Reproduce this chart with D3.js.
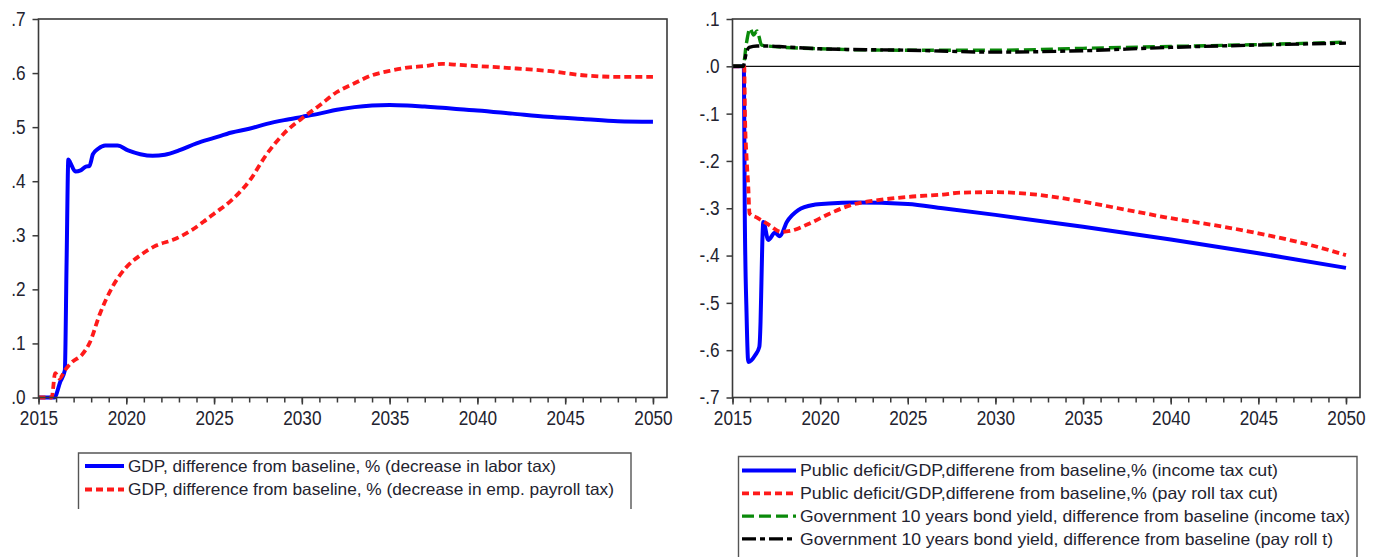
<!DOCTYPE html>
<html>
<head>
<meta charset="utf-8">
<script src="https://cdn.jsdelivr.net/npm/d3@7"></script>
<style>
  html, body { margin: 0; padding: 0; background: #fff; }
  svg { display: block; }
</style>
</head>
<body>
<svg id="chart" width="1381" height="559"></svg>
<script>
// ---------------- DATA ----------------
// Left panel: GDP, difference from baseline, %
const gdpLaborT = [2015, 2015.9, 2016.25, 2016.5, 2016.6, 2016.7, 2016.8, 2017.1, 2017.4, 2017.7, 2017.9, 2018.1, 2018.4, 2018.8, 2019.5, 2020.1, 2020.8, 2021.5, 2022.2, 2023, 2024, 2025, 2026, 2027, 2028, 2029, 2030, 2031, 2032, 2033, 2034, 2035, 2036, 2037, 2038, 2039, 2040, 2042, 2044, 2046, 2048, 2050];
const gdpLaborV = [0, 0, 0.03, 0.05, 0.25, 0.44, 0.435, 0.418, 0.42, 0.427, 0.428, 0.45, 0.46, 0.466, 0.466, 0.457, 0.45, 0.447, 0.449, 0.457, 0.47, 0.48, 0.49, 0.497, 0.506, 0.513, 0.519, 0.525, 0.532, 0.537, 0.54, 0.541, 0.54, 0.538, 0.536, 0.533, 0.531, 0.525, 0.519, 0.515, 0.511, 0.51];

const gdpPayrollT = [2015, 2015.75, 2015.95, 2016.2, 2016.5, 2016.9, 2017.5, 2017.9, 2018.5, 2019.2, 2020, 2020.8, 2021.7, 2022.7, 2023.7, 2024.4, 2025, 2026, 2027, 2028, 2029, 2030, 2031, 2032, 2033, 2034, 2035, 2036, 2037, 2038, 2039, 2040, 2042, 2044, 2046, 2048, 2050];
const gdpPayrollV = [0, 0, 0.045, 0.035, 0.05, 0.065, 0.08, 0.1, 0.155, 0.204, 0.241, 0.263, 0.281, 0.292, 0.309, 0.325, 0.34, 0.365, 0.40, 0.45, 0.489, 0.516, 0.54, 0.565, 0.581, 0.596, 0.604, 0.61, 0.613, 0.617, 0.615, 0.613, 0.609, 0.604, 0.596, 0.593, 0.593];

// Right panel: public deficit / GDP and bond yields
const defIncomeT = [2015, 2015.65, 2015.7, 2015.8, 2015.9, 2016.3, 2016.53, 2016.6, 2016.65, 2016.7, 2016.76, 2017.04, 2017.42, 2017.7, 2018.1, 2018.75, 2019.6, 2020.5, 2022, 2025, 2027, 2030, 2035, 2040, 2045, 2050];
const defIncomeV = [0, 0, -0.31, -0.52, -0.625, -0.61, -0.593, -0.54, -0.458, -0.374, -0.329, -0.367, -0.352, -0.359, -0.329, -0.304, -0.293, -0.29, -0.288, -0.291, -0.3, -0.314, -0.339, -0.366, -0.395, -0.426];

const defPayrollT = [2015, 2015.67, 2015.71, 2015.81, 2015.9, 2015.97, 2016.4, 2016.95, 2017.8, 2018.3, 2019.4, 2020.56, 2021.87, 2023.3, 2025, 2027, 2028, 2030, 2032, 2035, 2037, 2040, 2043, 2045, 2048, 2050];
const defPayrollV = [0, 0, -0.1, -0.198, -0.254, -0.311, -0.32, -0.332, -0.35, -0.348, -0.332, -0.311, -0.292, -0.283, -0.276, -0.271, -0.267, -0.266, -0.27, -0.286, -0.3, -0.321, -0.339, -0.353, -0.378, -0.399];

const yieldIncomeT = [2015, 2015.6, 2015.8, 2016.0, 2016.2, 2016.4, 2016.66, 2017, 2018, 2020, 2025, 2030, 2035, 2040, 2045, 2050];
const yieldIncomeV = [0, 0, 0.05, 0.08, 0.066, 0.075, 0.045, 0.043, 0.04, 0.037, 0.034, 0.034, 0.038, 0.042, 0.046, 0.051];

const yieldPayrollT = [2015, 2015.6, 2015.8, 2015.95, 2016.4, 2017, 2018, 2020, 2025, 2030, 2035, 2040, 2045, 2050];
const yieldPayrollV = [0, 0, 0.03, 0.04, 0.043, 0.043, 0.041, 0.037, 0.034, 0.03, 0.033, 0.04, 0.045, 0.049];

// Tick labels
const xMajorTicks = [2015, 2020, 2025, 2030, 2035, 2040, 2045, 2050];
const xMinorTicks = d3.range(2015, 2051, 1);
const leftYTicks = [0, 0.1, 0.2, 0.3, 0.4, 0.5, 0.6, 0.7];
const leftYLabels = [".0", ".1", ".2", ".3", ".4", ".5", ".6", ".7"];
const rightYTicks = [-0.7, -0.6, -0.5, -0.4, -0.3, -0.2, -0.1, 0, 0.1];
const rightYLabels = ["-.7", "-.6", "-.5", "-.4", "-.3", "-.2", "-.1", ".0", ".1"];

// Legends
const leftLegend = [
  "GDP, difference from baseline, % (decrease in labor tax)",
  "GDP, difference from baseline, % (decrease in emp. payroll tax)"
];
const rightLegend = [
  "Public deficit/GDP,differene from baseline,% (income tax cut)",
  "Public deficit/GDP,differene from baseline,% (pay roll tax cut)",
  "Government 10 years bond yield, difference from baseline (income tax)",
  "Government 10 years bond yield, difference from baseline (pay roll t)"
];

// ---------------- STYLES ----------------
const styles = {
  blue:  { color: "#0000ff", width: 4, dash: null },
  red:   { color: "#ff1a1a", width: 3.8, dash: "7,4" },
  green: { color: "#0a8a0a", width: 3.4, dash: "12,5" },
  black: { color: "#000000", width: 3.4, dash: "14,4,5,4" }
};
const FONT = '"Liberation Sans", Arial, sans-serif';
const TXT = "#23232f";
const NARROW = 0.86;

const svg = d3.select("#chart");

function narrow(sel) {
  sel.each(function () {
    const w = this.getComputedTextLength();
    d3.select(this).attr("textLength", w * NARROW).attr("lengthAdjust", "spacingAndGlyphs");
  });
}

function drawPanel(cfg) {
  const x = d3.scaleLinear().domain([2015, 2050.8]).range([cfg.x0, cfg.x1]);
  const y = d3.scaleLinear().domain(cfg.yDomain).range([cfg.y1, cfg.y0]);
  const g = svg.append("g");

  if (cfg.zeroLine) {
    g.append("line")
      .attr("x1", cfg.x0).attr("x2", cfg.x1)
      .attr("y1", y(0)).attr("y2", y(0))
      .attr("stroke", "#111").attr("stroke-width", 1.3);
  }

  const line = d3.line().x(d => x(d[0])).y(d => y(d[1])).curve(d3.curveMonotoneX);
  cfg.series.forEach(s => {
    const pts = s.t.map((t, i) => [t, s.v[i]]);
    const st = styles[s.style];
    g.append("path")
      .attr("d", line(pts))
      .attr("fill", "none")
      .attr("stroke", st.color)
      .attr("stroke-width", st.width)
      .attr("stroke-dasharray", st.dash)
      .attr("stroke-linejoin", "round");
  });

  g.append("rect")
    .attr("x", cfg.x0).attr("y", cfg.y0)
    .attr("width", cfg.x1 - cfg.x0).attr("height", cfg.y1 - cfg.y0)
    .attr("fill", "none").attr("stroke", "#3a3a3a").attr("stroke-width", 1.6);

  const yAxis = d3.axisLeft(y).tickValues(cfg.yTicks)
    .tickFormat((d, i) => cfg.yLabels[i]).tickSize(6).tickPadding(7);
  const ga = g.append("g").attr("transform", `translate(${cfg.x0},0)`).call(yAxis);
  ga.select(".domain").remove();
  ga.selectAll("line").attr("stroke", "#3a3a3a").attr("stroke-width", 1.5);
  ga.selectAll("text").attr("font-size", 20).attr("fill", TXT).style("font-family", FONT).call(narrow);

  const xMinor = d3.axisBottom(x).tickValues(xMinorTicks).tickFormat("").tickSize(5);
  const gm = g.append("g").attr("transform", `translate(0,${cfg.y1})`).call(xMinor);
  gm.select(".domain").remove();
  gm.selectAll("line").attr("stroke", "#3a3a3a").attr("stroke-width", 1.5);

  const xMajor = d3.axisBottom(x).tickValues(xMajorTicks).tickFormat(d3.format("d")).tickSize(7).tickPadding(6);
  const gx = g.append("g").attr("transform", `translate(0,${cfg.y1})`).call(xMajor);
  gx.select(".domain").remove();
  gx.selectAll("line").attr("stroke", "#3a3a3a").attr("stroke-width", 1.5);
  gx.selectAll("text").attr("font-size", 20).attr("fill", TXT).style("font-family", FONT).call(narrow);
}

drawPanel({
  x0: 38.5, x1: 667, y0: 19, y1: 397.5,
  yDomain: [0, 0.7], yTicks: leftYTicks, yLabels: leftYLabels,
  zeroLine: false,
  series: [
    { t: gdpLaborT, v: gdpLaborV, style: "blue" },
    { t: gdpPayrollT, v: gdpPayrollV, style: "red" }
  ]
});

drawPanel({
  x0: 732.5, x1: 1360, y0: 19, y1: 397.5,
  yDomain: [-0.7, 0.1], yTicks: rightYTicks, yLabels: rightYLabels,
  zeroLine: true,
  series: [
    { t: defIncomeT, v: defIncomeV, style: "blue" },
    { t: defPayrollT, v: defPayrollV, style: "red" },
    { t: yieldIncomeT, v: yieldIncomeV, style: "green" },
    { t: yieldPayrollT, v: yieldPayrollV, style: "black" }
  ]
});

// ---------------- LEGENDS ----------------
function drawLegend(cfg) {
  const g = svg.append("g");
  g.append("path")
    .attr("d", `M${cfg.bx0},${cfg.by1} V${cfg.by0} H${cfg.bx1} V${cfg.by1}`)
    .attr("fill", "none").attr("stroke", "#555").attr("stroke-width", 1.4);
  cfg.labels.forEach((lab, i) => {
    const yy = cfg.ly0 + i * cfg.dy;
    const st = styles[cfg.styles[i]];
    g.append("line")
      .attr("x1", cfg.sx0).attr("x2", cfg.sx1).attr("y1", yy).attr("y2", yy)
      .attr("stroke", st.color).attr("stroke-width", st.width)
      .attr("stroke-dasharray", st.dash);
    g.append("text")
      .attr("x", cfg.tx).attr("y", yy).attr("dy", "0.35em")
      .attr("font-size", 16.5).attr("fill", TXT).style("font-family", FONT)
      .attr("textLength", cfg.widths[i]).attr("lengthAdjust", "spacingAndGlyphs")
      .text(lab);
  });
}

drawLegend({
  bx0: 78.5, bx1: 631, by0: 453, by1: 509,
  sx0: 85, sx1: 124, tx: 128, ly0: 466, dy: 23.5,
  labels: leftLegend, styles: ["blue", "red"], widths: [428, 486]
});

drawLegend({
  bx0: 738.5, bx1: 1357, by0: 456.5, by1: 557,
  sx0: 742, sx1: 796, tx: 800, ly0: 470.5, dy: 22.8,
  labels: rightLegend, styles: ["blue", "red", "green", "black"], widths: [478, 478, 550, 533]
});
</script>
</body>
</html>
